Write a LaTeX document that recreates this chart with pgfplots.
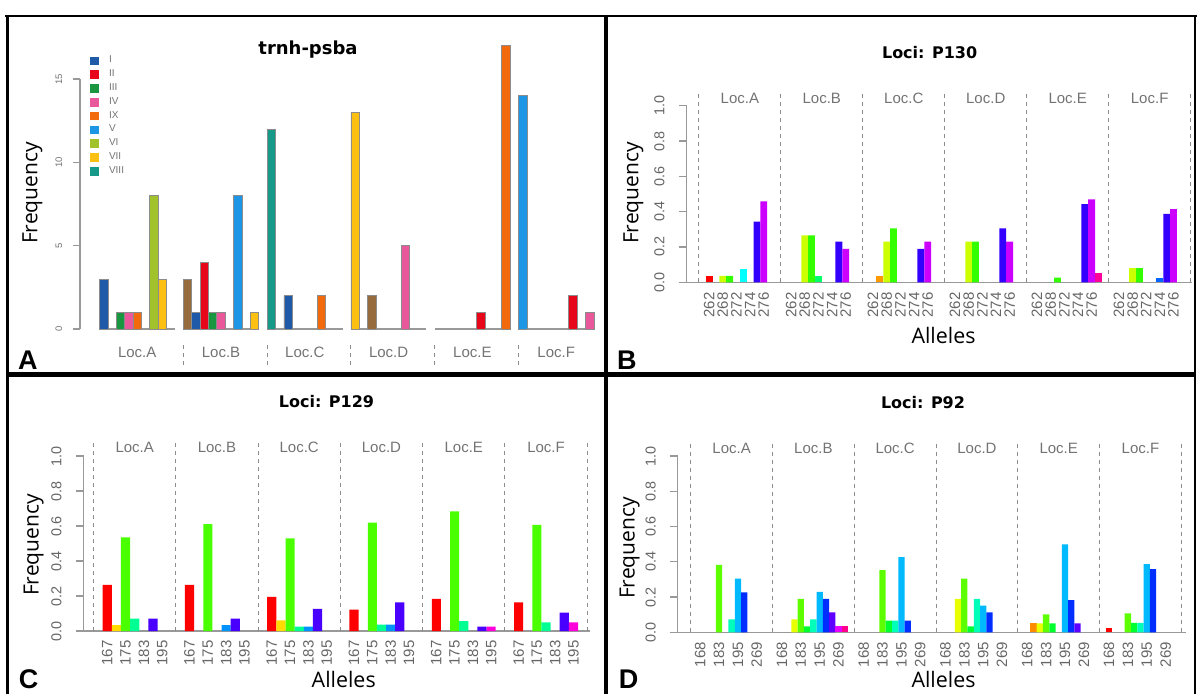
\documentclass[border=0pt]{standalone}
\usepackage{fontspec}
\setmainfont{Liberation Sans}
\newfontfamily\djv{DejaVu Sans}
\newfontfamily\osans{Open Sans}
\usepackage{pgfplots}
\pgfplotsset{compat=1.18}
% panel A haplotype colours
\definecolor{hI}{HTML}{1F5AA8}
\definecolor{hII}{HTML}{E8061B}
\definecolor{hIII}{HTML}{1A9641}
\definecolor{hIV}{HTML}{E8589A}
\definecolor{hIX}{HTML}{F26A0C}
\definecolor{hV}{HTML}{1E96E6}
\definecolor{hVI}{HTML}{A1C22A}
\definecolor{hVII}{HTML}{FBC012}
\definecolor{hVIII}{HTML}{17998A}
\definecolor{hX}{HTML}{966B3D}
% rainbow(10)
\definecolor{b0}{HTML}{FF0000}\definecolor{b1}{HTML}{FF9900}\definecolor{b2}{HTML}{CCFF00}
\definecolor{b3}{HTML}{33FF00}\definecolor{b4}{HTML}{00FF66}\definecolor{b5}{HTML}{00FFFF}
\definecolor{b6}{HTML}{0066FF}\definecolor{b7}{HTML}{3300FF}\definecolor{b8}{HTML}{CC00FF}
\definecolor{b9}{HTML}{FF0099}
% rainbow(7)
\definecolor{c0}{HTML}{FF0000}\definecolor{c1}{HTML}{FFDB00}\definecolor{c2}{HTML}{49FF00}
\definecolor{c3}{HTML}{00FF92}\definecolor{c4}{HTML}{0092FF}\definecolor{c5}{HTML}{4900FF}
\definecolor{c6}{HTML}{FF00DB}
% rainbow(11)
\definecolor{d0}{HTML}{FF0000}\definecolor{d1}{HTML}{FF8B00}\definecolor{d2}{HTML}{E8FF00}
\definecolor{d3}{HTML}{5DFF00}\definecolor{d4}{HTML}{00FF2E}\definecolor{d5}{HTML}{00FFB9}
\definecolor{d6}{HTML}{00B9FF}\definecolor{d7}{HTML}{002EFF}\definecolor{d8}{HTML}{5D00FF}
\definecolor{d9}{HTML}{E800FF}\definecolor{d10}{HTML}{FF008B}

\tikzset{
  sep/.style={draw=black!45, line width=0.5pt, dash pattern=on 2pt off 2pt},
  loclab/.style={font=\fontsize{7.5}{8}\selectfont, text=black!55, anchor=base},
  panletter/.style={font=\bfseries\fontsize{13.5}{14}\selectfont, anchor=base west, inner sep=0pt},
}
\pgfplotsset{
  sqlegend/.style={legend image code/.code={\fill[##1,draw=none] (0pt,-2.17pt) rectangle (4.35pt,2.17pt);}},
  barA/.style={ybar, bar width=1, bar shift=0pt, fill=#1, draw=black!45, line width=0.35pt, sqlegend},
  barR/.style={ybar, bar width=1, bar shift=0pt, fill=#1, draw=none},
  loci/.style={scale only axis, anchor=south west, ymin=0, ymax=1, clip=false, enlargelimits=false,
    axis lines*=left, axis line style={draw=black!40, line width=0.6pt},
    tick align=outside, major tick length=4pt,
    ytick={0,0.2,0.4,0.6,0.8,1}, ytick style={draw=black!40, line width=0.6pt},
    /pgf/number format/assume math mode=true,
    scaled y ticks=false,
    yticklabel style={rotate=90, anchor=south, inner sep=0pt, font=\fontsize{7.2}{8}\selectfont, text=black!60,
      /pgf/number format/.cd, fixed, fixed zerofill, precision=1},
    yticklabel shift=6.9pt,
    xtick style={draw=none},
    xticklabel style={rotate=90, anchor=east, inner sep=0pt, font=\fontsize{7.5}{8}\selectfont, text=black!60},
  },
}

\begin{document}
\begin{tikzpicture}
\path[use as bounding box] (0,0) rectangle (598.5pt,346.5pt);

% ---------------- Panel A ----------------
\begin{axis}[at={(40pt,182pt)}, anchor=south west, scale only axis,
  width=261.13pt, height=125pt,
  xmin=-2.83, xmax=59.5, ymin=0, ymax=15, clip=false, enlargelimits=false,
  axis lines*=left, x axis line style={draw=none}, y axis line style={draw=black!40, line width=0.6pt},
  tick align=outside, major tick length=3.5pt,
  /pgf/number format/assume math mode=true,
  ytick={0,5,10,15}, ytick style={draw=black!40, line width=0.6pt},
  yticklabel style={rotate=90, anchor=south, inner sep=0pt, font=\fontsize{4.75}{5}\selectfont, text=black!55},
  yticklabel shift=5.15pt,
  xtick={4,14,24,34,44,54}, xticklabels={Loc.A,Loc.B,Loc.C,Loc.D,Loc.E,Loc.F},
  xtick style={draw=none},
  xticklabel style={anchor=base, inner sep=0pt, font=\fontsize{7.5}{8}\selectfont, text=black!55},
  xticklabel shift=10.75pt,
  legend style={at={(axis cs:-1.634,16.5)}, anchor=north west, draw=none, fill=none,
    inner sep=0pt, outer sep=0pt, font=\fontsize{5}{6}\selectfont, text=black!55,
    cells={anchor=west}, row sep=0pt,
    nodes={inner sep=0pt, text height=4.45pt, text depth=2.45pt},
    /tikz/every odd column/.append style={column sep=5.15pt}},
]
% zero-height bars (baseline per group)
\addplot[draw=black!40, line width=0.7pt, forget plot] coordinates {(-0.5,0) (8.5,0)};
\addplot[draw=black!40, line width=0.7pt, forget plot] coordinates {(9.5,0) (18.5,0)};
\addplot[draw=black!40, line width=0.7pt, forget plot] coordinates {(19.5,0) (28.5,0)};
\addplot[draw=black!40, line width=0.7pt, forget plot] coordinates {(29.5,0) (38.5,0)};
\addplot[draw=black!40, line width=0.7pt, forget plot] coordinates {(39.5,0) (48.5,0)};
\addplot[draw=black!40, line width=0.7pt, forget plot] coordinates {(49.5,0) (58.5,0)};
\addplot[barA=hI] coordinates {(0,3) (11,1) (22,2)};
\addlegendentry{I}
\addplot[barA=hII] coordinates {(12,4) (45,1) (56,2)};
\addlegendentry{II}
\addplot[barA=hIII] coordinates {(2,1) (13,1)};
\addlegendentry{III}
\addplot[barA=hIV] coordinates {(3,1) (14,1) (36,5) (58,1)};
\addlegendentry{IV}
\addplot[barA=hIX] coordinates {(4,1) (26,2) (48,17)};
\addlegendentry{IX}
\addplot[barA=hV] coordinates {(16,8) (50,14)};
\addlegendentry{V}
\addplot[barA=hVI] coordinates {(6,8)};
\addlegendentry{VI}
\addplot[barA=hVII] coordinates {(7,3) (18,1) (30,13)};
\addlegendentry{VII}
\addplot[barA=hVIII] coordinates {(20,12)};
\addlegendentry{VIII}
\addplot[barA=hX, forget plot] coordinates {(10,3) (32,2)};
\draw[sep] (axis cs:9.5,-0.96) -- (axis cs:9.5,-2.16);
\draw[sep] (axis cs:19.5,-0.96) -- (axis cs:19.5,-2.16);
\draw[sep] (axis cs:29.5,-0.96) -- (axis cs:29.5,-2.16);
\draw[sep] (axis cs:39.5,-0.96) -- (axis cs:39.5,-2.16);
\draw[sep] (axis cs:49.5,-0.96) -- (axis cs:49.5,-2.16);
\end{axis}

% ---------------- Panel B ----------------
\begin{axis}[loci, at={(343.29pt,205.35pt)}, width=252.71pt, height=88.3pt,
  xmin=-3.3, xmax=70.7, xticklabel shift=0.85pt,
  xtick={0,2,4,6,8,12,14,16,18,20,24,26,28,30,32,36,38,40,42,44,48,50,52,54,56,60,62,64,66,68},
  xticklabels={262,268,272,274,276,262,268,272,274,276,262,268,272,274,276,262,268,272,274,276,262,268,272,274,276,262,268,272,274,276},
]
\addplot[barR=b0] coordinates {(0,0.036)};
\addplot[barR=b1] coordinates {(25,0.036)};
\addplot[barR=b2] coordinates {(2,0.036) (14,0.266) (26,0.23) (38,0.23) (62,0.081)};
\addplot[barR=b3] coordinates {(3,0.036) (15,0.266) (27,0.305) (39,0.23) (51,0.026) (63,0.081)};
\addplot[barR=b4] coordinates {(16,0.036)};
\addplot[barR=b5] coordinates {(5,0.075)};
\addplot[barR=b6] coordinates {(66,0.026)};
\addplot[barR=b7] coordinates {(7,0.343) (19,0.23) (31,0.19) (43,0.305) (55,0.443) (67,0.388)};
\addplot[barR=b8] coordinates {(8,0.458) (20,0.19) (32,0.23) (44,0.23) (56,0.47) (68,0.415)};
\addplot[barR=b9] coordinates {(57,0.054)};
\draw[sep] (axis cs:-1.5,0) -- (axis cs:-1.5,1.083);
\draw[sep] (axis cs:10.5,0) -- (axis cs:10.5,1.083);
\draw[sep] (axis cs:22.5,0) -- (axis cs:22.5,1.083);
\draw[sep] (axis cs:34.5,0) -- (axis cs:34.5,1.083);
\draw[sep] (axis cs:46.5,0) -- (axis cs:46.5,1.083);
\draw[sep] (axis cs:58.5,0) -- (axis cs:58.5,1.083);
\draw[sep] (axis cs:70.5,0) -- (axis cs:70.5,1.083);
\node[loclab] at (axis cs:4.5,1.013) {Loc.A};
\node[loclab] at (axis cs:16.5,1.013) {Loc.B};
\node[loclab] at (axis cs:28.5,1.013) {Loc.C};
\node[loclab] at (axis cs:40.5,1.013) {Loc.D};
\node[loclab] at (axis cs:52.5,1.013) {Loc.E};
\node[loclab] at (axis cs:64.5,1.013) {Loc.F};
\end{axis}

% ---------------- Panel C ----------------
\begin{axis}[loci, at={(41.85pt,31pt)}, width=253.09pt, height=87.5pt,
  xmin=-2.58, xmax=52.8, xticklabel shift=0.5pt,
  xtick={0,2,4,6,9,11,13,15,18,20,22,24,27,29,31,33,36,38,40,42,45,47,49,51},
  xticklabels={167,175,183,195,167,175,183,195,167,175,183,195,167,175,183,195,167,175,183,195,167,175,183,195},
]
\addplot[barR=c0] coordinates {(0,0.263) (9,0.263) (18,0.195) (27,0.122) (36,0.183) (45,0.163)};
\addplot[barR=c1] coordinates {(1,0.033) (19,0.061)};
\addplot[barR=c2] coordinates {(2,0.535) (11,0.611) (20,0.529) (29,0.62) (38,0.683) (47,0.607)};
\addplot[barR=c3] coordinates {(3,0.071) (21,0.025) (30,0.037) (39,0.057) (48,0.05)};
\addplot[barR=c4] coordinates {(13,0.033) (22,0.025) (31,0.037)};
\addplot[barR=c5] coordinates {(5,0.071) (14,0.071) (23,0.126) (32,0.163) (41,0.025) (50,0.105)};
\addplot[barR=c6] coordinates {(42,0.025) (51,0.05)};
\draw[sep] (axis cs:-1.5,0) -- (axis cs:-1.5,1.082);
\draw[sep] (axis cs:7.5,0) -- (axis cs:7.5,1.082);
\draw[sep] (axis cs:16.5,0) -- (axis cs:16.5,1.082);
\draw[sep] (axis cs:25.5,0) -- (axis cs:25.5,1.082);
\draw[sep] (axis cs:34.5,0) -- (axis cs:34.5,1.082);
\draw[sep] (axis cs:43.5,0) -- (axis cs:43.5,1.082);
\draw[sep] (axis cs:52.5,0) -- (axis cs:52.5,1.082);
\node[loclab] at (axis cs:3,1.018) {Loc.A};
\node[loclab] at (axis cs:12,1.018) {Loc.B};
\node[loclab] at (axis cs:21,1.018) {Loc.C};
\node[loclab] at (axis cs:30,1.018) {Loc.D};
\node[loclab] at (axis cs:39,1.018) {Loc.E};
\node[loclab] at (axis cs:48,1.018) {Loc.F};
\end{axis}

% ---------------- Panel D ----------------
\begin{axis}[loci, at={(338.94pt,30.35pt)}, width=253.93pt, height=88.15pt,
  xmin=-3.54, xmax=77.2, xticklabel shift=0.7pt,
  xtick={0,3,6,9,13,16,19,22,26,29,32,35,39,42,45,48,52,55,58,61,65,68,71,74},
  xticklabels={168,183,195,269,168,183,195,269,168,183,195,269,168,183,195,269,168,183,195,269,168,183,195,269},
]
\addplot[barR=d0] coordinates {(65,0.024)};
\addplot[barR=d1] coordinates {(53,0.051)};
\addplot[barR=d2] coordinates {(15,0.074) (41,0.189) (54,0.051)};
\addplot[barR=d3] coordinates {(3,0.382) (16,0.189) (29,0.353) (42,0.304) (55,0.102) (68,0.108)};
\addplot[barR=d4] coordinates {(17,0.034) (30,0.066) (43,0.034) (56,0.051) (69,0.053)};
\addplot[barR=d5] coordinates {(5,0.074) (18,0.074) (31,0.066) (44,0.189) (70,0.053)};
\addplot[barR=d6] coordinates {(6,0.304) (19,0.229) (32,0.427) (45,0.151) (58,0.499) (71,0.387)};
\addplot[barR=d7] coordinates {(7,0.227) (20,0.189) (33,0.066) (46,0.113) (59,0.183) (72,0.359)};
\addplot[barR=d8] coordinates {(21,0.113) (60,0.051)};
\addplot[barR=d9] coordinates {(22,0.034)};
\addplot[barR=d10] coordinates {(23,0.034)};
\draw[sep] (axis cs:-1.5,0) -- (axis cs:-1.5,1.081);
\draw[sep] (axis cs:11.5,0) -- (axis cs:11.5,1.081);
\draw[sep] (axis cs:24.5,0) -- (axis cs:24.5,1.081);
\draw[sep] (axis cs:37.5,0) -- (axis cs:37.5,1.081);
\draw[sep] (axis cs:50.5,0) -- (axis cs:50.5,1.081);
\draw[sep] (axis cs:63.5,0) -- (axis cs:63.5,1.081);
\draw[sep] (axis cs:76.5,0) -- (axis cs:76.5,1.081);
\node[loclab] at (axis cs:5,1.016) {Loc.A};
\node[loclab] at (axis cs:18,1.016) {Loc.B};
\node[loclab] at (axis cs:31,1.016) {Loc.C};
\node[loclab] at (axis cs:44,1.016) {Loc.D};
\node[loclab] at (axis cs:57,1.016) {Loc.E};
\node[loclab] at (axis cs:70,1.016) {Loc.F};
\end{axis}

% ---------------- titles, labels, letters ----------------
\node[font=\djv\bfseries\fontsize{9}{10}\selectfont] at (154pt,321.5pt) {trnh-psba};
\node[font=\djv\bfseries\fontsize{8}{9}\selectfont] at (464.8pt,320.35pt) {Loci: P130};
\node[font=\djv\bfseries\fontsize{8}{9}\selectfont] at (163.25pt,145.65pt) {Loci: P129};
\node[font=\djv\bfseries\fontsize{8}{9}\selectfont] at (461.5pt,145.35pt) {Loci: P92};
\node[font=\osans\fontsize{10.5}{11}\selectfont, rotate=90] at (16.25pt,250pt) {Frequency};
\node[font=\osans\fontsize{10.5}{11}\selectfont, rotate=90] at (316.75pt,250pt) {Frequency};
\node[font=\osans\fontsize{10.5}{11}\selectfont, rotate=90] at (16.85pt,74pt) {Frequency};
\node[font=\osans\fontsize{10.5}{11}\selectfont, rotate=90] at (314.85pt,72.5pt) {Frequency};
\node[font=\osans\fontsize{10.7}{11}\selectfont] at (471.75pt,179pt) {Alleles};
\node[font=\osans\fontsize{10.7}{11}\selectfont] at (171.85pt,7pt) {Alleles};
\node[font=\osans\fontsize{10.7}{11}\selectfont] at (471.75pt,7pt) {Alleles};
\node[panletter] at (8.9pt,162pt) {A};
\node[panletter] at (308.4pt,162pt) {B};
\node[panletter] at (9.2pt,2.2pt) {C};
\node[panletter] at (309.2pt,2.2pt) {D};

% panel frames
\draw[line width=1.3pt] (2.5pt,338.5pt) -- (598.5pt,338.5pt);
\draw[line width=1.3pt] (3.7pt,339.15pt) -- (3.7pt,-1pt);
\draw[line width=2.2pt] (302.9pt,339.15pt) -- (302.9pt,-1pt);
\draw[line width=1.3pt] (597.5pt,339.15pt) -- (597.5pt,-1pt);
\draw[line width=2.5pt] (3.7pt,159.5pt) -- (597.5pt,159.5pt);
\end{tikzpicture}
\end{document}
